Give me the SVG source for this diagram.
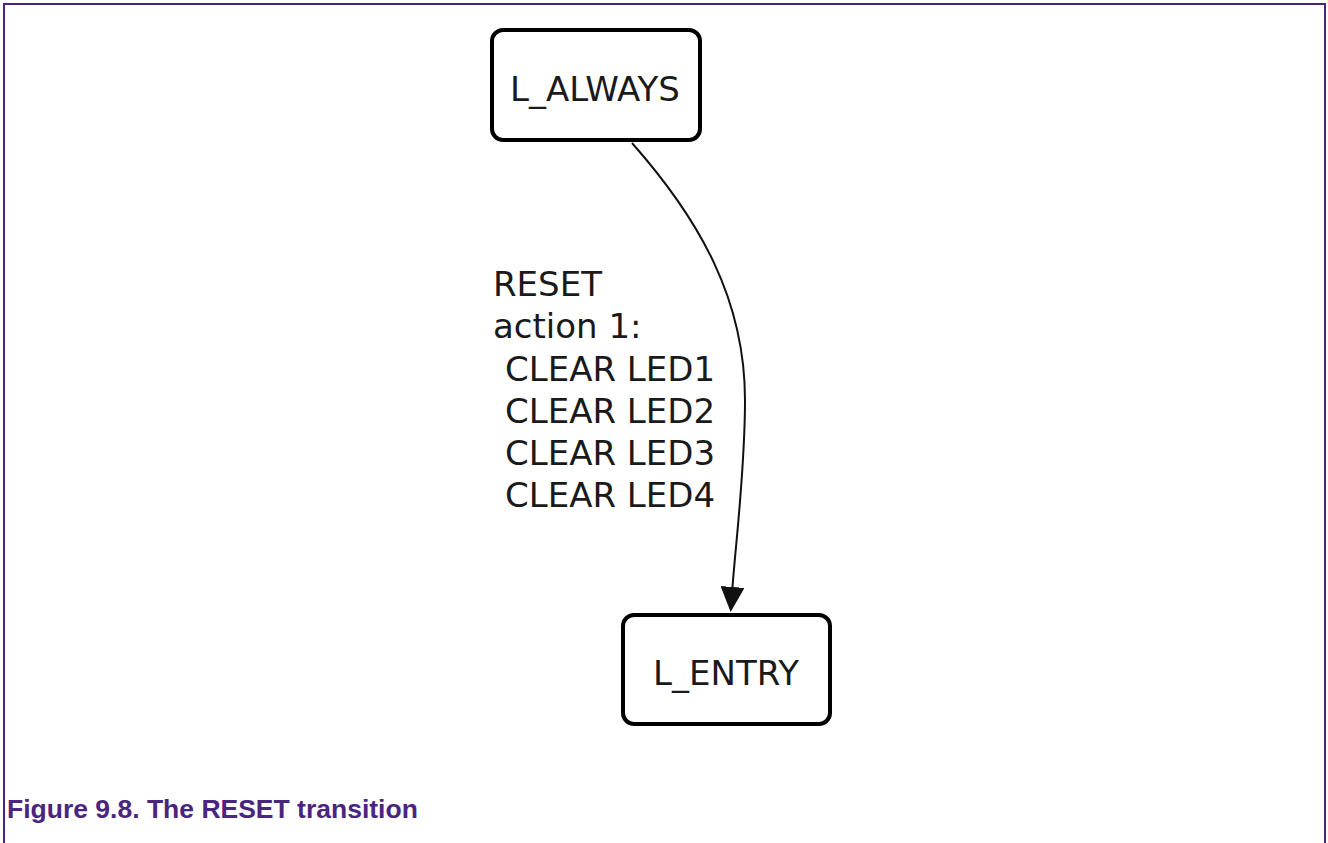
<svg xmlns="http://www.w3.org/2000/svg" width="1328" height="843" viewBox="0 0 1328 843">
<defs>
<style>
.node rect{fill:#fff;stroke:#000;stroke-width:4}
.node text,.lbl{font-family:"DejaVu Sans",Verdana,sans-serif;font-size:34px;fill:#1a1a1a}
.node text{text-anchor:middle}
.edge{fill:none;stroke:#111;stroke-width:2}
.frame{stroke:#4a2580;stroke-width:2;fill:none}
.cap{font-family:"Liberation Sans",Arial,sans-serif;font-weight:bold;font-size:26.5px;fill:#4a2580}
</style>
<marker id="arr" viewBox="0 0 25 24" refX="0" refY="12" markerWidth="25" markerHeight="24" markerUnits="userSpaceOnUse" orient="auto">
<path d="M0 0 L25 12 L0 24 Z" fill="#111"/>
</marker>
</defs>
<rect x="0" y="0" width="1328" height="843" fill="#fff"/>
<path class="frame" d="M4 843 V4 H1325 V843"/>
<g id="connectors">
<path class="edge" d="M632 143 C700 220 745 300 745 400 C745 470 736 540 732.5 587" marker-end="url(#arr)"/>
<text class="lbl" x="493" y="296">RESET</text>
<text class="lbl" x="493" y="338">action 1:</text>
<text class="lbl" x="505" y="381">CLEAR LED1</text>
<text class="lbl" x="505" y="423">CLEAR LED2</text>
<text class="lbl" x="505" y="465">CLEAR LED3</text>
<text class="lbl" x="505" y="507">CLEAR LED4</text>
</g>
<g id="L_ALWAYS" class="node">
<rect x="492" y="30" width="208" height="110" rx="11"/>
<text x="595" y="101">L_ALWAYS</text>
</g>
<g id="L_ENTRY" class="node">
<rect x="623" y="615" width="207" height="109" rx="11"/>
<text x="726" y="685">L_ENTRY</text>
</g>
<text class="cap" x="7" y="818">Figure 9.8. The RESET transition</text>
</svg>
